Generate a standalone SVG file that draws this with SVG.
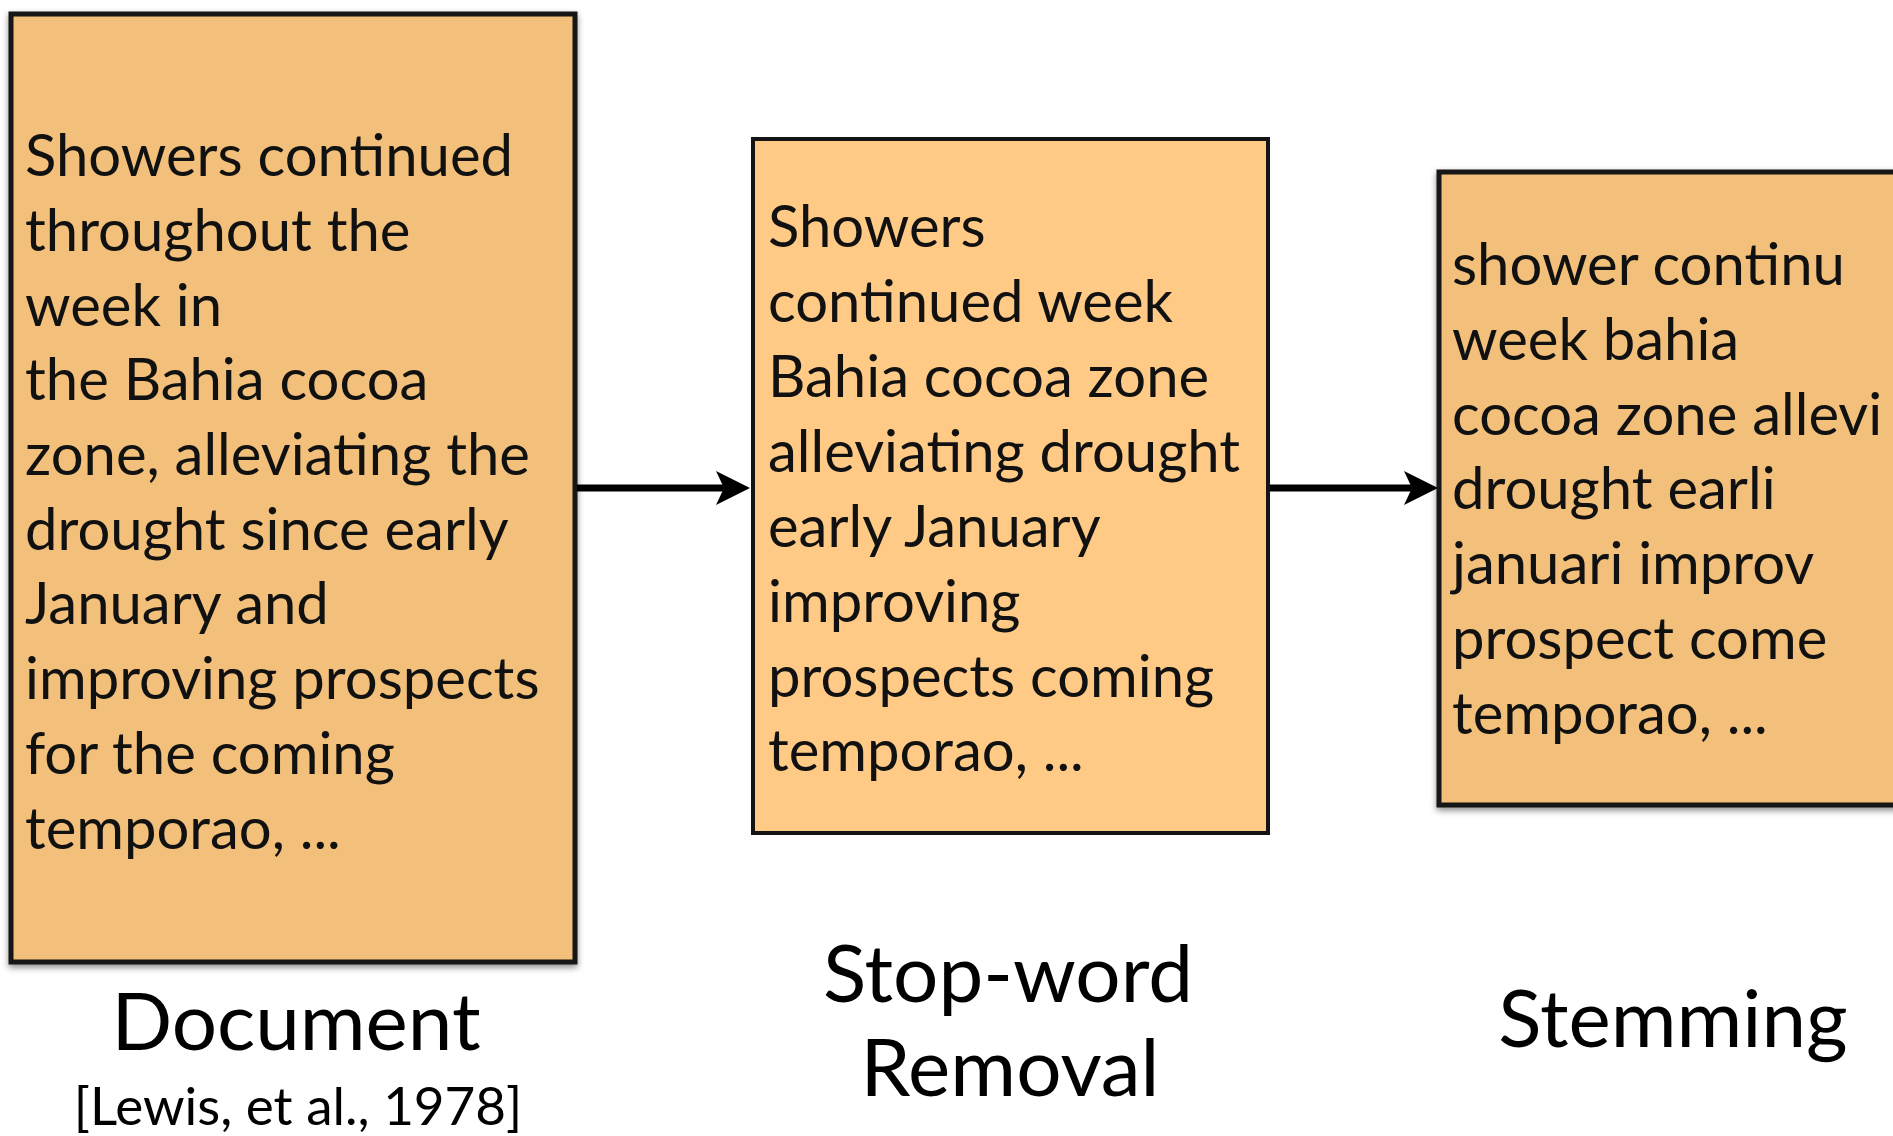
<svg xmlns="http://www.w3.org/2000/svg" width="1893" height="1136" viewBox="0 0 1893 1136">
  <style>
    .box { stroke: #141414; stroke-width: 5; }
    .dark { fill: #F2C07A; }
    .light { fill: #FECA85; }
    .body { font-family: Lato, "Open Sans", sans-serif; font-size: 58px; fill: #111; }
    .label { font-family: Lato, "Open Sans", sans-serif; font-size: 80px; fill: #000; text-anchor: middle; }
    .cite { font-family: Lato, "Open Sans", sans-serif; font-size: 53px; fill: #000; text-anchor: middle; }
    .link { stroke: #000; stroke-width: 7; fill: none; }
  </style>
  <defs>
    <filter id="shadow" x="-5%" y="-5%" width="110%" height="110%">
      <feDropShadow dx="0" dy="3" stdDeviation="3" flood-color="#000" flood-opacity="0.45"/>
    </filter>
  </defs>
  <rect width="1893" height="1136" fill="#fff"/>

  <!-- Original document -->
  <g id="document">
    <rect class="box dark" x="11" y="14" width="564" height="948" filter="url(#shadow)"/>
    <text class="body">
      <tspan x="25" y="176">Showers continued</tspan>
      <tspan x="25" y="251">throughout the</tspan>
      <tspan x="25" y="326">week in</tspan>
      <tspan x="25" y="400">the Bahia cocoa</tspan>
      <tspan x="25" y="475">zone, alleviating the</tspan>
      <tspan x="25" y="550">drought since early</tspan>
      <tspan x="25" y="624">January and</tspan>
      <tspan x="25" y="699">improving prospects</tspan>
      <tspan x="25" y="774">for the coming</tspan>
      <tspan x="25" y="849">temporao, ...</tspan>
    </text>
    <text class="label" x="296" y="1050">Document</text>
    <text class="cite" x="298" y="1125">[Lewis, et al., 1978]</text>
  </g>

  <!-- After stop-word removal -->
  <g id="stopword">
    <rect class="box light" x="753" y="139" width="515" height="694" style="stroke-width:4"/>
    <text class="body">
      <tspan x="768" y="247">Showers</tspan>
      <tspan x="768" y="322">continued week</tspan>
      <tspan x="768" y="397">Bahia cocoa zone</tspan>
      <tspan x="768" y="472">alleviating drought</tspan>
      <tspan x="768" y="547">early January</tspan>
      <tspan x="768" y="622">improving</tspan>
      <tspan x="768" y="697">prospects coming</tspan>
      <tspan x="768" y="771">temporao, ...</tspan>
    </text>
    <text class="label" x="1008" y="1002">Stop-word</text>
    <text class="label" x="1010" y="1096">Removal</text>
  </g>

  <!-- After stemming; the box runs past the right edge of the page -->
  <g id="stemming">
    <rect class="box dark" x="1439" y="172" width="520" height="633" filter="url(#shadow)"/>
    <text class="body">
      <tspan x="1452" y="285">shower continu</tspan>
      <tspan x="1452" y="360">week bahia</tspan>
      <tspan x="1452" y="435">cocoa zone allevi</tspan>
      <tspan x="1452" y="509">drought earli</tspan>
      <tspan x="1452" y="584">januari improv</tspan>
      <tspan x="1452" y="659">prospect come</tspan>
      <tspan x="1452" y="734">temporao, ...</tspan>
    </text>
    <text class="label" x="1673" y="1047">Stemming</text>
  </g>

  <!-- Pipeline arrows -->
  <g id="connectors">
    <line class="link" x1="577" y1="488" x2="728" y2="488"/>
    <polygon points="750,488 716,471 724,488 716,505" fill="#000"/>
    <line class="link" x1="1270" y1="488" x2="1416" y2="488"/>
    <polygon points="1438,488 1404,471 1412,488 1404,505" fill="#000"/>
  </g>
</svg>
